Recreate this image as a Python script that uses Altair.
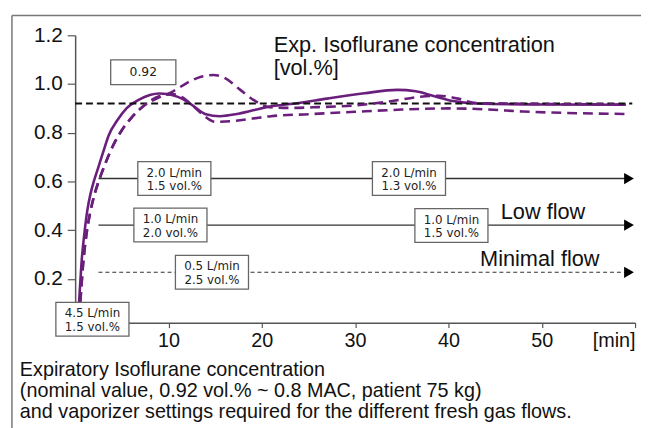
import altair as alt
import pandas as pd

# ---------------- data ----------------
# solid purple curve (time [min], exp. isoflurane [vol.%])
solid_t = [0.3, 0.42, 0.71, 1.0, 1.3, 1.65, 2.0, 2.5, 3.0, 3.6, 4.5, 5.5, 6.8, 8.0, 9.0,
           10.0, 11.0, 12.0, 13.0, 14.0, 15.5, 17.5, 20.5, 24.0, 27.0, 31.0, 34.5, 36.5,
           38.5, 40.5, 43.0, 50.0, 59.0]
solid_c = [0.04, 0.105, 0.28, 0.39, 0.48, 0.55, 0.60, 0.66, 0.72, 0.79, 0.85, 0.90, 0.935,
           0.955, 0.961, 0.958, 0.947, 0.928, 0.90, 0.876, 0.868, 0.878, 0.905, 0.922, 0.94,
           0.962, 0.976, 0.970, 0.950, 0.930, 0.920, 0.916, 0.915]

# dashed curve with overshoot
dash1_t = [0.4, 0.55, 0.85, 1.2, 1.6, 2.1, 2.7, 3.3, 4.1, 5.0, 6.0, 7.5, 9.0, 10.5, 12.0,
           13.5, 14.8, 16.0, 17.7, 19.1, 20.8, 23.0, 26.0, 30.0, 34.0, 37.0, 39.0, 41.0,
           43.0, 50.0, 59.0]
dash1_c = [0.04, 0.105, 0.26, 0.38, 0.47, 0.55, 0.62, 0.68, 0.75, 0.81, 0.86, 0.915, 0.945,
           0.97, 1.005, 1.03, 1.037, 1.025, 0.976, 0.935, 0.905, 0.902, 0.905, 0.912, 0.93,
           0.948, 0.952, 0.94, 0.922, 0.918, 0.916]

# dashed curve with dip
dash2_t = [0.4, 0.55, 0.85, 1.2, 1.6, 2.1, 2.7, 3.3, 4.1, 5.0, 6.0, 7.5, 9.0, 10.5, 11.5,
           12.5, 13.5, 15.0, 17.0, 19.0, 21.0, 25.0, 30.0, 35.0, 40.0, 44.0, 48.0, 54.0, 59.0]
dash2_c = [0.04, 0.105, 0.26, 0.38, 0.47, 0.55, 0.62, 0.68, 0.75, 0.81, 0.86, 0.915, 0.95,
           0.958, 0.945, 0.915, 0.88, 0.845, 0.848, 0.858, 0.868, 0.876, 0.886, 0.895, 0.90,
           0.896, 0.887, 0.880, 0.877]

target_value = 0.92
target_label = ["0.92"]
target_label_t = [7.3]
target_label_c = [1.048]

# fresh gas flow settings (arrows)
flow_level = [0.612, 0.421, 0.227]
flow_kind = ["2.0", "1.0", "0.5"]
flow_start = 2.5
flow_end = 59.0
arrow_t = 59.35

box_text = ["2.0 L/min\n1.5 vol.%", "2.0 L/min\n1.3 vol.%", "1.0 L/min\n2.0 vol.%",
            "1.0 L/min\n1.5 vol.%", "0.5 L/min\n2.5 vol.%", "4.5 L/min\n1.5 vol.%"]
box_t = [10.63, 35.77, 10.21, 40.32, 14.66, 1.85]
box_c = [0.612, 0.612, 0.421, 0.419, 0.227, 0.034]

x_ticks = [10, 20, 30, 40, 50, 60]
y_ticks = [0.2, 0.4, 0.6, 0.8, 1.0, 1.2]

title_lines = ["Exp. Isoflurane concentration", "[vol.%]"]
caption = ["Expiratory Isoflurane concentration",
           "(nominal value, 0.92 vol.% ~ 0.8 MAC, patient 75 kg)",
           "and vaporizer settings required for the different fresh gas flows."]

# ---------------- styling ----------------
PURPLE = "#6b1f7c"
FONT = "Liberation Sans"
W, H = 567, 291

xs = alt.Scale(domain=[0, 60], nice=False)
ys = alt.Scale(domain=[0.02, 1.2], nice=False)

solid_df = pd.DataFrame({"t": solid_t, "c": solid_c})
d1_df = pd.DataFrame({"t": dash1_t, "c": dash1_c})
d2_df = pd.DataFrame({"t": dash2_t, "c": dash2_c})

x_axis = alt.Axis(values=x_ticks, format="d",
                  labelExpr="datum.value == 60 ? '[min]' : datum.label",
                  title=None, grid=False, tickSize=5, labelPadding=3,
                  labelFontSize=20, labelFont=FONT, labelColor="#111",
                  domainColor="#555", tickColor="#555", domainWidth=1.5, tickWidth=1.2,
                  labelFlush=True, labelOverlap=False)
y_axis = alt.Axis(values=y_ticks, format=".1f", title=None, grid=False, tickSize=8,
                  labelPadding=5, labelFontSize=21, labelFont=FONT, labelColor="#111",
                  domainColor="#555", tickColor="#555", domainWidth=1.5, tickWidth=1.2,
                  labelFlush=False, labelOverlap=False)

base_solid = alt.Chart(solid_df).mark_line(color=PURPLE, strokeWidth=2.6, interpolate="monotone").encode(
    x=alt.X("t:Q", scale=xs, axis=x_axis),
    y=alt.Y("c:Q", scale=ys, axis=y_axis),
)
dash1 = alt.Chart(d1_df).mark_line(color=PURPLE, strokeWidth=2.6, strokeDash=[10, 6],
                                   interpolate="monotone").encode(
    x=alt.X("t:Q", scale=xs), y=alt.Y("c:Q", scale=ys))
dash2 = alt.Chart(d2_df).mark_line(color=PURPLE, strokeWidth=2.6, strokeDash=[10, 6],
                                   interpolate="monotone").encode(
    x=alt.X("t:Q", scale=xs), y=alt.Y("c:Q", scale=ys))

target_df = pd.DataFrame({"t0": [0.0], "t1": [59.7], "c": [target_value]})
target_rule = alt.Chart(target_df).mark_rule(color="#111", strokeWidth=2, strokeDash=[7, 4]).encode(
    x=alt.X("t0:Q", scale=xs), x2="t1:Q", y=alt.Y("c:Q", scale=ys))

flow_df = pd.DataFrame({"t0": [flow_start] * 3, "t1": [flow_end] * 3, "c": flow_level,
                        "kind": flow_kind})
flow_solid = alt.Chart(flow_df[flow_df.kind != "0.5"]).mark_rule(color="#333", strokeWidth=1.3).encode(
    x=alt.X("t0:Q", scale=xs), x2="t1:Q", y=alt.Y("c:Q", scale=ys))
flow_dashed = alt.Chart(flow_df[flow_df.kind == "0.5"]).mark_rule(
    color="#333", strokeWidth=1.2, strokeDash=[4, 3]).encode(
    x=alt.X("t0:Q", scale=xs), x2="t1:Q", y=alt.Y("c:Q", scale=ys))
arrow_df = pd.DataFrame({"t": [arrow_t] * 3, "c": flow_level})
arrows = alt.Chart(arrow_df).mark_point(shape="triangle-right", filled=True, color="#000",
                                        size=130, opacity=1).encode(
    x=alt.X("t:Q", scale=xs), y=alt.Y("c:Q", scale=ys))

box_df = pd.DataFrame({"t": box_t, "c": box_c, "label": box_text})
boxes = alt.Chart(box_df).mark_rect(fill="white", stroke="#666", strokeWidth=1.3,
                                    xOffset=-37, x2Offset=37, yOffset=-17, y2Offset=17).encode(
    x=alt.X("t:Q", scale=xs), x2="t:Q", y=alt.Y("c:Q", scale=ys), y2="c:Q")
box_labels = alt.Chart(box_df).mark_text(font="DejaVu Sans", fontSize=12, color="#222",
                                         lineBreak="\n", lineHeight=14, align="center",
                                         baseline="middle", dy=-6).encode(
    x=alt.X("t:Q", scale=xs), y=alt.Y("c:Q", scale=ys), text="label:N")

tl_df = pd.DataFrame({"t": target_label_t, "c": target_label_c, "label": target_label})
tl_box = alt.Chart(tl_df).mark_rect(fill="white", stroke="#666", strokeWidth=1.3,
                                    xOffset=-33, x2Offset=33, yOffset=-12.5, y2Offset=12.5).encode(
    x=alt.X("t:Q", scale=xs), x2="t:Q", y=alt.Y("c:Q", scale=ys), y2="c:Q")
tl_text = alt.Chart(tl_df).mark_text(font="DejaVu Sans", fontSize=12.5, color="#222",
                                     align="center", baseline="middle").encode(
    x=alt.X("t:Q", scale=xs), y=alt.Y("c:Q", scale=ys), text="label:N")

def label(txt, px, py, size, line_h=None, font=FONT):
    kw = {}
    if line_h is not None:
        kw = {"lineBreak": "\n", "lineHeight": line_h}
    return alt.Chart(pd.DataFrame({"s": [txt]})).mark_text(
        font=font, fontSize=size, color="#111", align="left", baseline="alphabetic",
        **kw).encode(x=alt.value(px), y=alt.value(py), text="s:N")

texts = [
    label("\n".join(title_lines), 201, 17, 22, line_h=23),
    label("Low flow", 431, 186, 22),
    label("Minimal flow", 410, 234, 22),
    label("\n".join(caption), -56, 344.5, 20, line_h=21.5),
]

frame_top = alt.Chart(pd.DataFrame({"a": [0]})).mark_rule(color="#777", strokeWidth=1.5).encode(
    x=alt.value(-64), x2=alt.value(575), y=alt.value(-20))
frame_left = alt.Chart(pd.DataFrame({"a": [0]})).mark_rule(color="#777", strokeWidth=1.5).encode(
    x=alt.value(-64), y=alt.value(-20), y2=alt.value(400))

chart = alt.layer(
    base_solid, frame_top, frame_left, target_rule, flow_solid, flow_dashed, arrows,
    dash1, dash2, boxes, box_labels, tl_box, tl_text, *texts
).properties(
    width=W, height=H,
    autosize=alt.AutoSizeParams(type="none"),
    padding={"left": 68, "top": 25, "right": 6, "bottom": 104},
    background="white",
).configure_view(stroke=None)

chart.save("out.html", embed_options={"renderer": "svg", "actions": False})
